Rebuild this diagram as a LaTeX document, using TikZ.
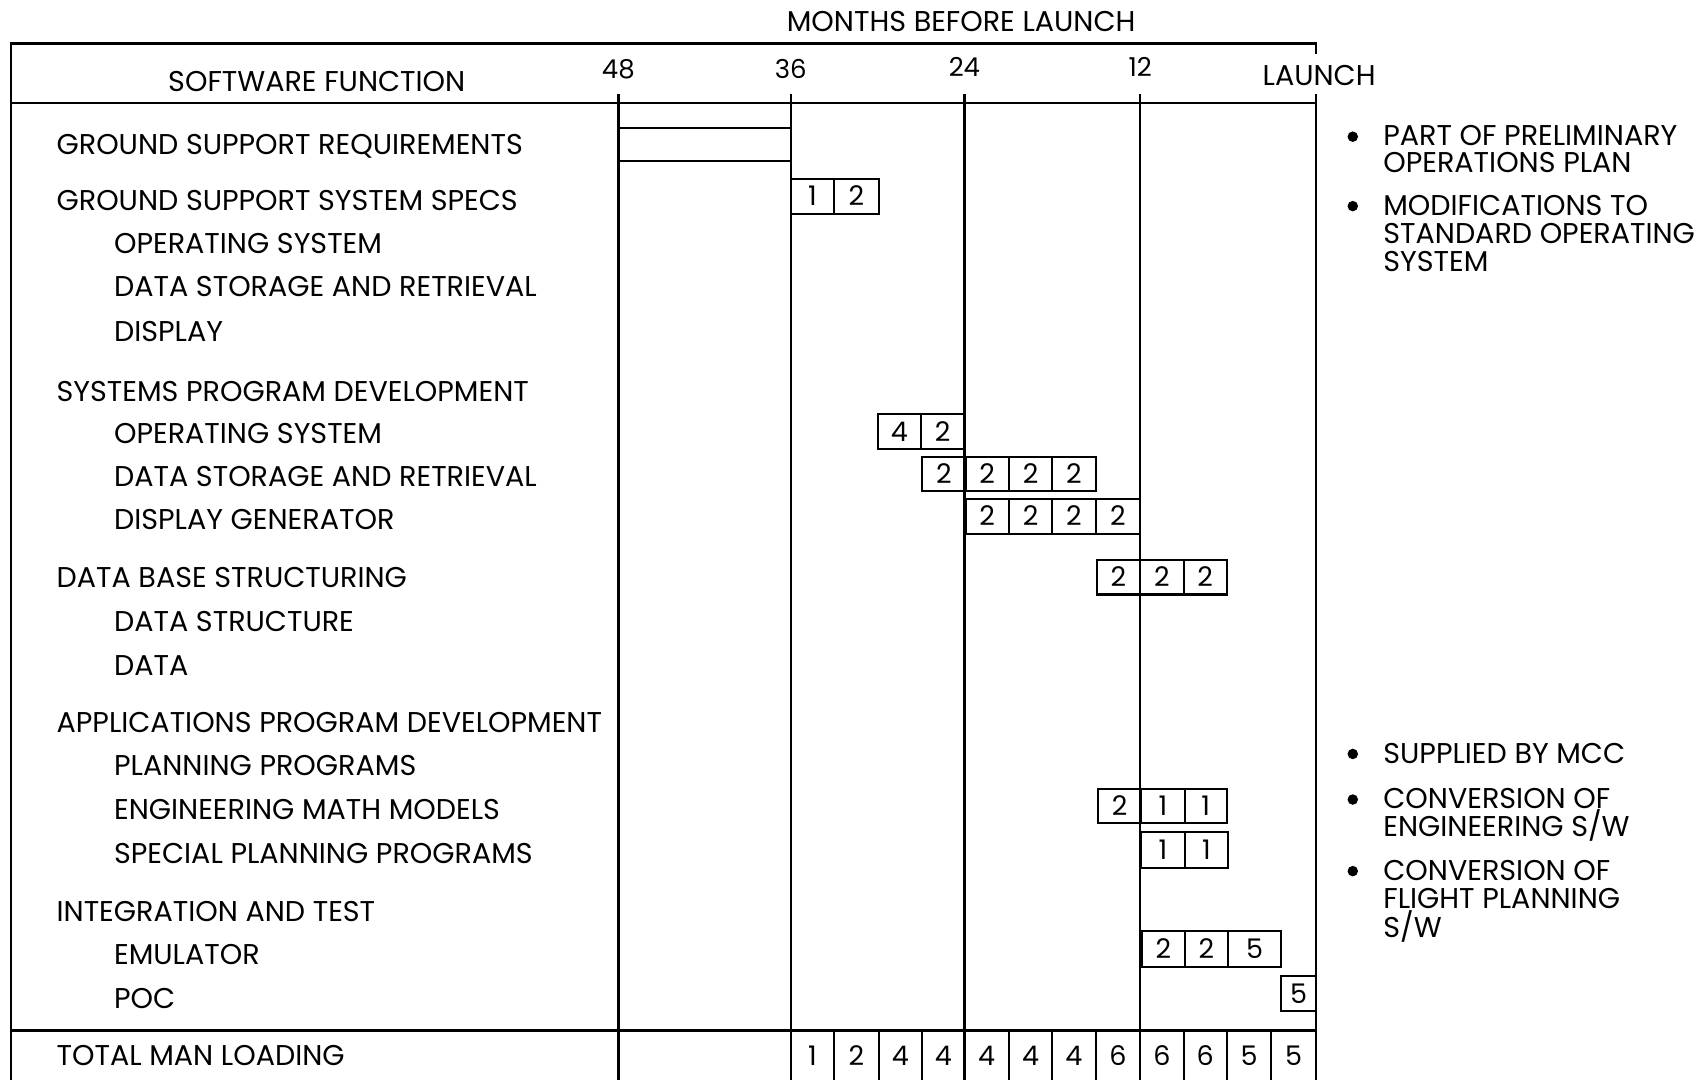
\documentclass[tikz,border=0pt]{standalone}
\usepackage{fontspec}
\setmainfont{Poppins}
\newcommand\barcells[4]{%
  \foreach \a/\b/\n in {#4} {%
    \draw[bar] (\a,#2) rectangle (\b,#3);
    \node[num] (#1-\a) at ({(\a+\b)/2},{(#2+#3)/2}) {\n};
  }}
\begin{document}
\begin{tikzpicture}[x=1.0848pt,y=-1.0848pt,
  frame/.style={line width=2.6pt},
  bar/.style={line width=2.1pt},
  lbl/.style={font=\fontsize{28.6}{32}\selectfont, inner sep=0pt, text height=20pt, text depth=0pt, anchor=west},
  num/.style={font=\fontsize{27}{30}\selectfont, inner sep=0pt, text height=19pt, text depth=0pt},
  col/.style={font=\fontsize{26}{30}\selectfont, inner sep=0pt, text height=18pt, text depth=0pt},
  bul/.style={circle, fill=black, inner sep=0pt, minimum size=10.5pt}]
\useasboundingbox (0,0) rectangle (1568,996);
% frame
\draw[frame] (10,996) -- (10,40) -- (1213,40) -- (1213,50);
\draw[frame] (10,95) -- (1213,95);
\draw[frame] (10,950) -- (1213,950);
\foreach \x in {570,729,889,1051,1213} \draw[frame] (\x,87) -- (\x,996);
% header
\node[lbl, anchor=center] (mbl) at (886,20) {MONTHS BEFORE LAUNCH};
\node[lbl, anchor=center] (sf) at (292,75) {SOFTWARE FUNCTION};
\node[col] (c48) at (570,64) {48};
\node[col] (c36) at (729,64) {36};
\node[col] (c24) at (889,62) {24};
\node[col] (c12) at (1051,62) {12};
\node[lbl, anchor=center] (cl) at (1216,70) {LAUNCH};
% row labels
\node[lbl] (r1) at (52,133) {GROUND SUPPORT REQUIREMENTS};
\node[lbl] (r2) at (52,185) {GROUND SUPPORT SYSTEM SPECS};
\node[lbl] (r3) at (105,224) {OPERATING SYSTEM};
\node[lbl] (r4) at (105,264) {DATA STORAGE AND RETRIEVAL};
\node[lbl] (r5) at (105,306) {DISPLAY};
\node[lbl] (r6) at (52,361) {SYSTEMS PROGRAM DEVELOPMENT};
\node[lbl] (r7) at (105,400) {OPERATING SYSTEM};
\node[lbl] (r8) at (105,439) {DATA STORAGE AND RETRIEVAL};
\node[lbl] (r9) at (105,479) {DISPLAY GENERATOR};
\node[lbl] (r10) at (52,532) {DATA BASE STRUCTURING};
\node[lbl] (r11) at (105,573) {DATA STRUCTURE};
\node[lbl] (r12) at (105,613) {DATA};
\node[lbl] (r13) at (52,666) {APPLICATIONS PROGRAM DEVELOPMENT};
\node[lbl] (r14) at (105,706) {PLANNING PROGRAMS};
\node[lbl] (r15) at (105,746) {ENGINEERING MATH MODELS};
\node[lbl] (r16) at (105,787) {SPECIAL PLANNING PROGRAMS};
\node[lbl] (r17) at (52,840) {INTEGRATION AND TEST};
\node[lbl] (r18) at (105,880) {EMULATOR};
\node[lbl] (r19) at (105,920) {POC};
\node[lbl] (r20) at (52,973) {TOTAL MAN LOADING};
% ground support requirements bar
\draw[bar] (570,118) -- (729,118);
\draw[bar] (570,148) -- (729,148);
% bars
\barcells{gs}{165}{197}{729/769/1,769/810/2}
\barcells{os}{382}{414}{809/849/4,849/889/2}
\barcells{ds}{421}{453}{850/890/2,890/930/2,930/970/2,970/1010/2}
\barcells{dg}{460}{492}{890/930/2,930/970/2,970/1010/2,1010/1051/2}
\barcells{db}{516}{548}{1011/1051/2,1051/1091/2,1091/1131/2}
\barcells{em}{727}{759}{1012/1052/2,1052/1092/1,1092/1131/1}
\barcells{sp}{767}{800}{1052/1092/1,1092/1132/1}
\barcells{eu}{858}{891}{1053/1092/2,1092/1132/2,1132/1181/5}
\barcells{pc}{900}{932}{1181/1213/5}
% total row
\foreach \a/\b/\n [count=\i] in {729/769/1,769/810/2,810/850/4,850/889/4,889/930/4,930/970/4,970/1010/4,1010/1051/6,1051/1091/6,1091/1131/6,1131/1172/5,1172/1213/5} {
  \draw[bar] (\b,950) -- (\b,996);
  \node[num] (t\i) at ({(\a+\b)/2},973) {\n};
}
% notes
\node[bul] (b1) at (1247,126) {};
\node[lbl] (n1a) at (1275,125) {PART OF PRELIMINARY};
\node[lbl] (n1b) at (1275,150) {OPERATIONS PLAN};
\node[bul] (b2) at (1247,190) {};
\node[lbl] (n2a) at (1275,189) {MODIFICATIONS TO};
\node[lbl] (n2b) at (1275,215) {STANDARD OPERATING};
\node[lbl] (n2c) at (1275,241) {SYSTEM};
\node[bul] (b3) at (1247,695) {};
\node[lbl] (n3a) at (1275,695) {SUPPLIED BY MCC};
\node[bul] (b4) at (1247,737) {};
\node[lbl] (n4a) at (1275,736) {CONVERSION OF};
\node[lbl] (n4b) at (1275,762) {ENGINEERING S/W};
\node[bul] (b5) at (1247,803) {};
\node[lbl] (n5a) at (1275,802) {CONVERSION OF};
\node[lbl] (n5b) at (1275,828) {FLIGHT PLANNING};
\node[lbl] (n5c) at (1275,855) {S/W};
\end{tikzpicture}
\end{document}
